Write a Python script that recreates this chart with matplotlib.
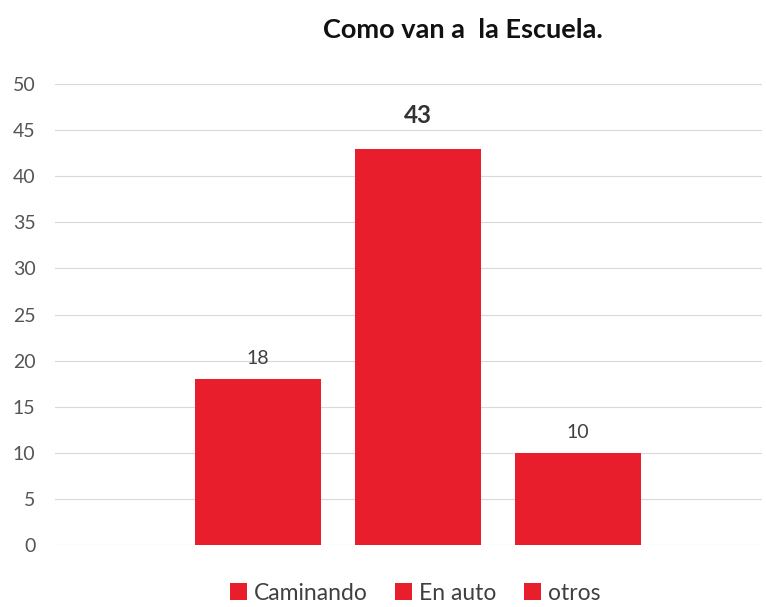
import matplotlib
matplotlib.use("Agg")
import matplotlib.pyplot as plt
from matplotlib.patches import Patch

categories = ["Caminando", "En auto", "otros"]
values = [18, 43, 10]
yticks = [0, 5, 10, 15, 20, 25, 30, 35, 40, 45, 50]
title = "Como van a  la Escuela."

plt.rcParams['font.family'] = ['Lato', 'DejaVu Sans']
W, H = 766, 607
fig = plt.figure(figsize=(W/100, H/100), dpi=100)
ax = fig.add_axes([55/W, (H-545)/H, (762-55)/W, (545-84)/H])

red = "#E91E2D"
x = list(range(len(values)))
ax.bar(x, values, width=0.79, color=red, zorder=3)
ax.set_xlim(-1.27, 3.15)
ax.set_ylim(0, 50)
ax.set_yticks(yticks)
ax.tick_params(axis='y', length=0, labelsize=14, labelcolor="#555555", pad=14)
ax.set_xticks([])
for s in ax.spines.values():
    s.set_visible(False)
ax.grid(axis='y', color="#D9D9D9", linewidth=0.8, zorder=0)

for i, v in enumerate(values):
    if v == max(values):
        ax.text(i, v + 2.3, str(v), ha='center', va='bottom', fontsize=17.5,
                fontweight='bold', color="#333333")
    else:
        ax.text(i, v + 1.3, str(v), ha='center', va='bottom', fontsize=14,
                color="#404040")

fig.text(463/W, 1 - 30/H, title, ha='center', va='center', fontsize=19.5,
         fontweight='bold', color="#111111")

handles = [Patch(facecolor=red, edgecolor='none') for _ in categories]
fig.legend(handles, categories, loc='center', bbox_to_anchor=(415/W, 1 - 593/H),
           ncol=3, frameon=False, fontsize=16.5, handlelength=0.75, handleheight=0.75,
           handletextpad=0.3, columnspacing=1.2, labelcolor="#404040")

fig.savefig("out.png", dpi=100)
